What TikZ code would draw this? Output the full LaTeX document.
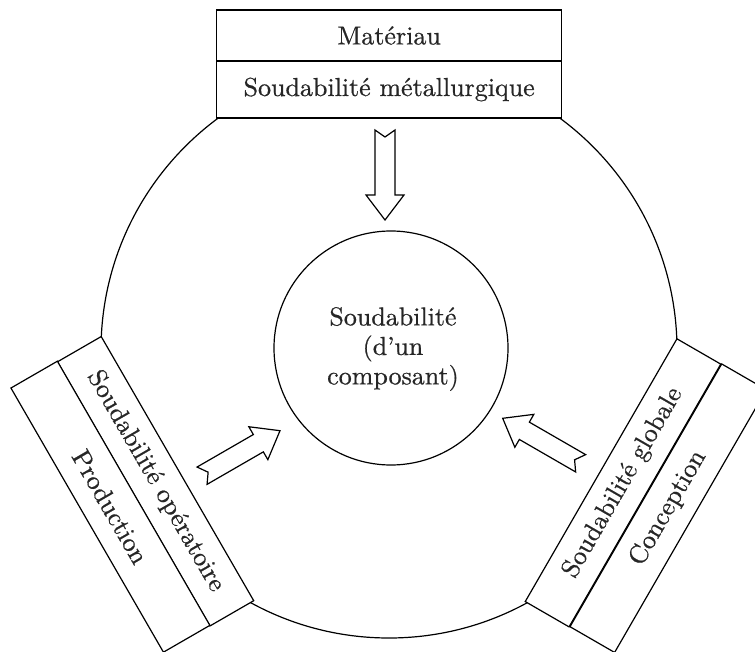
\documentclass[tikz,border=0pt]{standalone}
\usepackage{fontspec}
\setmainfont{lmroman10-regular.otf}[FakeBold=0.6]
\begin{document}
\begin{tikzpicture}[x=1pt,y=-1pt,
  line width=1.2pt,
  lbl/.style={text=black!85, font=\fontsize{26}{29.5}\selectfont},
  strip/.style={draw, fill=white, rectangle, inner sep=0pt, lbl},
  blockarrow/.pic={\draw[fill=white] (-90,10) -- (-25,10) -- (-25,19) -- (0,0) -- (-25,-19) -- (-25,-10) -- (-90,-10) -- (-83,0) -- cycle;}]
\useasboundingbox (0,0) rectangle (755,652);
\clip (0,0) rectangle (755,652);
% outer ring
\node[circle, draw, minimum size=576pt, inner sep=0pt] (ring) at (389,350) {};
% top box
\node[strip, minimum width=345pt, minimum height=51pt] (mat) at (389.2,35.5) {Matériau};
\node[strip, minimum width=345pt, minimum height=57pt] (met) at (389.2,89.5) {Soudabilité métallurgique};
% left box
\node[strip, rotate=-60, minimum width=305pt, minimum height=50.5pt] (ope) at (155.6,481.25) {Soudabilité opératoire};
\node[strip, rotate=-60, minimum width=305pt, minimum height=53.6pt] (prod) at (110.4,506.7) {Production};
% right box
\node[strip, rotate=60, minimum width=303.4pt, minimum height=50.6pt] (glob) at (623,482.85) {Soudabilité globale};
\node[strip, rotate=60, minimum width=303.4pt, minimum height=51.5pt] (conc) at (668.15,508.2) {Conception};
% central circle
\node[circle, draw, minimum size=234pt, inner sep=0pt] (comp) at (391,348) {};
\node[lbl, align=center, inner sep=0pt] (comptxt) at (393,349) {Soudabilité\\(d’un\\composant)};
% block arrows
\pic[rotate=-90] at (385,220) {blockarrow};
\pic[rotate=30] at (280,430.7) {blockarrow};
\pic[rotate=150] at (502.7,418.3) {blockarrow};
\end{tikzpicture}
\end{document}
